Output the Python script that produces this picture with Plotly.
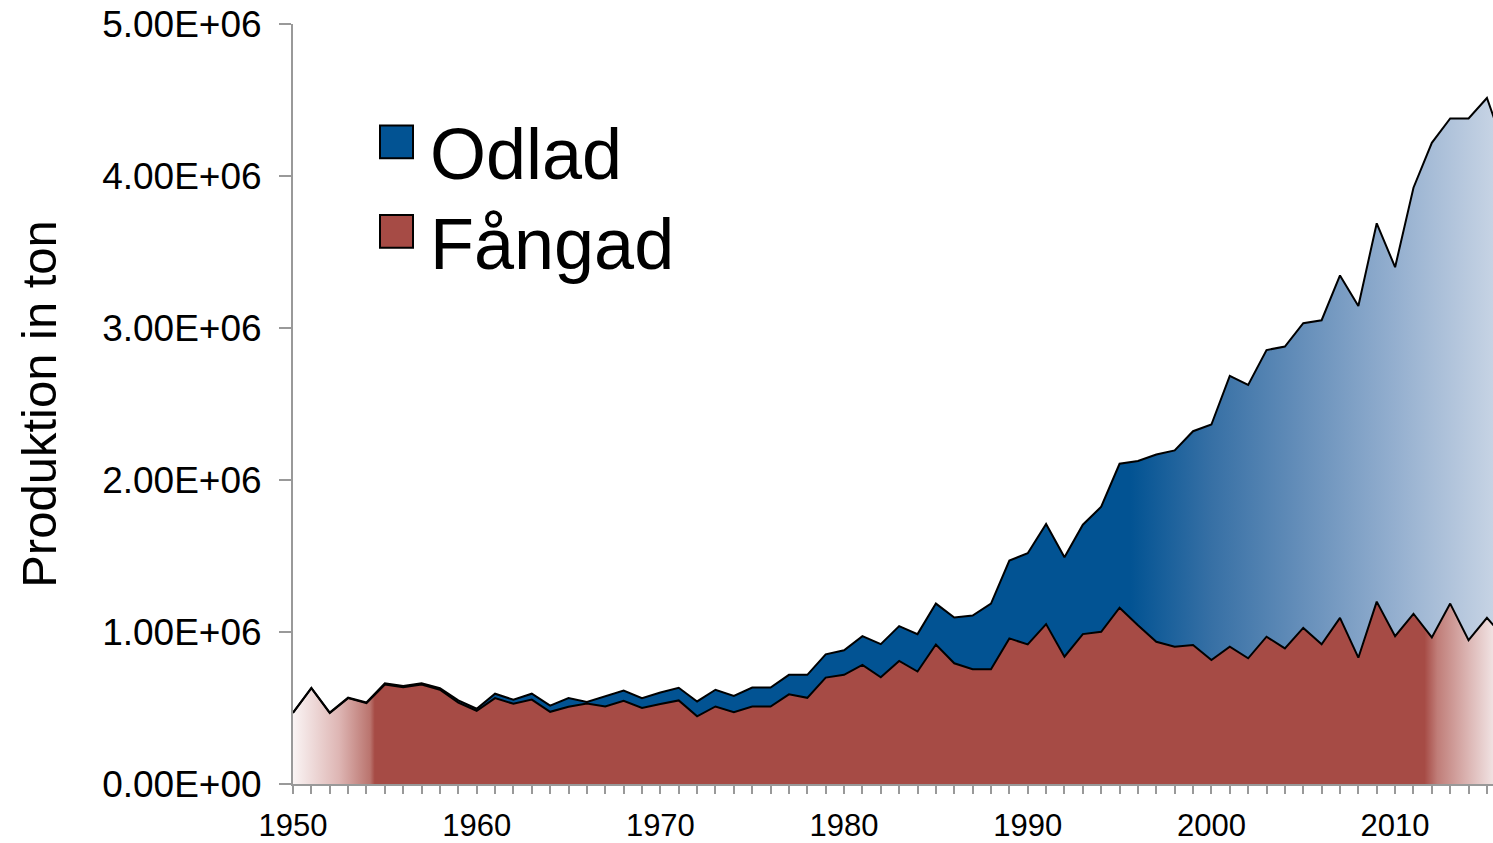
import numpy as np
import plotly.graph_objects as go

years = list(range(1950, 2017))
fangad = [0.467, 0.630, 0.467, 0.565, 0.532, 0.655, 0.637, 0.655, 0.620, 0.535,
          0.482, 0.565, 0.528, 0.555, 0.475, 0.508, 0.530, 0.510, 0.548, 0.500,
          0.526, 0.550, 0.445, 0.510, 0.473, 0.510, 0.510, 0.590, 0.567, 0.700,
          0.718, 0.783, 0.702, 0.810, 0.740, 0.918, 0.794, 0.755, 0.755, 0.958,
          0.918, 1.052, 0.838, 0.986, 1.001, 1.160, 1.045, 0.936, 0.903, 0.914,
          0.816, 0.903, 0.827, 0.969, 0.892, 1.027, 0.919, 1.093, 0.831, 1.200,
          0.973, 1.120, 0.964, 1.187, 0.946, 1.093, 0.955]
totalt = [0.469, 0.632, 0.470, 0.568, 0.537, 0.662, 0.645, 0.662, 0.630, 0.550,
          0.495, 0.594, 0.554, 0.594, 0.516, 0.565, 0.540, 0.580, 0.615, 0.565,
          0.602, 0.633, 0.543, 0.620, 0.580, 0.635, 0.635, 0.718, 0.718, 0.853,
          0.880, 0.973, 0.920, 1.039, 0.986, 1.187, 1.095, 1.108, 1.187, 1.470,
          1.518, 1.710, 1.492, 1.706, 1.824, 2.107, 2.125, 2.168, 2.195, 2.321,
          2.365, 2.685, 2.626, 2.855, 2.878, 3.032, 3.051, 3.346, 3.145, 3.689,
          3.400, 3.923, 4.218, 4.379, 4.379, 4.513, 4.170]
odlad = [round(t - f, 3) for t, f in zip(totalt, fangad)]

y_tickvals = [0, 1e6, 2e6, 3e6, 4e6, 5e6]
y_ticktext = ["0.00E+00", "1.00E+06", "2.00E+06", "3.00E+06", "4.00E+06", "5.00E+06"]
x_tickvals = [1950, 1960, 1970, 1980, 1990, 2000, 2010]

fangad_t = np.array(fangad) * 1e6
odlad_t = np.array(odlad) * 1e6
top_t = fangad_t + odlad_t

FONT = "Liberation Sans, Arial, Helvetica, sans-serif"
RED = "rgb(166,75,69)"
BLUE = "rgb(2,83,147)"

def pos(yr):
    return (yr - 1950) / (2016 - 1950)

red_scale = [
    [0.0, "rgb(250,244,244)"],
    [pos(1952.5), "rgb(222,182,180)"],
    [pos(1954.2), "rgb(186,116,110)"],
    [pos(1954.45), RED],
    [pos(2011.6), RED],
    [pos(2012.3), "rgb(192,125,120)"],
    [pos(2014.0), "rgb(220,182,180)"],
    [pos(2015.33), "rgb(240,226,226)"],
    [1.0, "rgb(250,245,245)"],
]
blue_scale = [
    [0.0, BLUE],
    [pos(1995.6), BLUE],
    [pos(2000.0), "rgb(55,112,165)"],
    [pos(2005.0), "rgb(102,143,186)"],
    [pos(2010.0), "rgb(148,175,207)"],
    [pos(2015.33), "rgb(198,211,228)"],
    [1.0, "rgb(208,218,232)"],
]

fig = go.Figure()
fig.add_trace(go.Scatter(
    x=years, y=fangad_t, mode="lines", name="Fångad",
    line=dict(color="black", width=2),
    fill="tozeroy",
    fillgradient=dict(type="horizontal", colorscale=red_scale, start=1950, stop=2016),
    showlegend=False, hoverinfo="skip",
))
fig.add_trace(go.Scatter(
    x=years, y=top_t, mode="lines", name="Odlad",
    line=dict(color="black", width=2),
    fill="tonexty",
    fillgradient=dict(type="horizontal", colorscale=blue_scale, start=1950, stop=2016),
    showlegend=False, hoverinfo="skip",
))

# legend (manual, large)
W, H = 1493, 843
L, R, T, B = 293, 0, 24, 55
pw, ph = W - L - R, H - T - B
def px(x):
    return (x - L) / pw
def py(y):
    return (H - B - y) / ph

legend_items = [("Odlad", BLUE, 126, 155), ("Fångad", RED, 216, 245)]
for name, col, top, mid in legend_items:
    fig.add_shape(type="rect", xref="paper", yref="paper",
                  x0=px(380), x1=px(413), y0=py(top + 33), y1=py(top),
                  fillcolor=col, line=dict(color="black", width=2))
    fig.add_annotation(text=name, xref="paper", yref="paper",
                       x=px(428), y=py(mid), xanchor="left", yanchor="middle",
                       showarrow=False, font=dict(family=FONT, size=72, color="black"))

fig.update_layout(
    width=W, height=H,
    margin=dict(l=L, r=R, t=T, b=B),
    paper_bgcolor="white", plot_bgcolor="white",
    font=dict(family=FONT, color="black"),
    showlegend=False,
)
fig.update_xaxes(
    range=[1950, 2015.33], tickvals=x_tickvals,
    ticks="outside", ticklen=8, tickcolor="#999999", tickwidth=1.5,
    minor=dict(dtick=1, ticks="outside", ticklen=8, tickcolor="#999999", tickwidth=1.5),
    showline=True, linecolor="#999999", linewidth=2,
    showgrid=False, zeroline=False,
    ticklabelstandoff=5,
    tickfont=dict(family=FONT, size=31, color="black"),
)
fig.update_yaxes(
    range=[0, 5e6], tickvals=y_tickvals, ticktext=y_ticktext,
    ticks="outside", ticklen=12, tickcolor="#999999", tickwidth=1.5,
    showline=True, linecolor="#999999", linewidth=2,
    showgrid=False, zeroline=False,
    ticklabelstandoff=10,
    tickfont=dict(family=FONT, size=37, color="black"),
    title=dict(text="Produktion in ton", font=dict(family=FONT, size=49, color="black"), standoff=30),
)

fig.write_html("out.html", config={"displayModeBar": False},
               post_script="document.body.style.margin='0';document.body.style.overflow='hidden';")
